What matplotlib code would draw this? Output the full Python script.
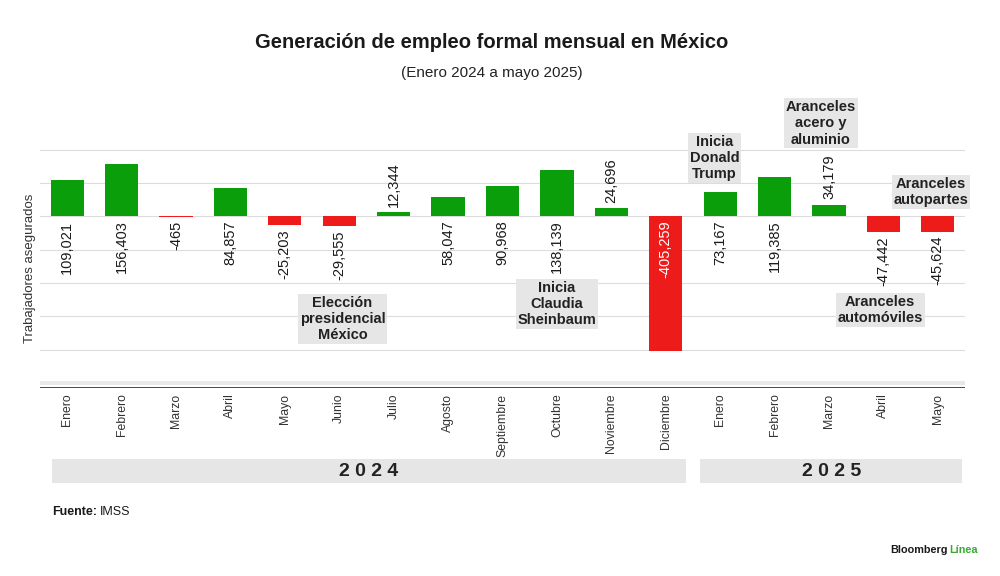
import matplotlib
matplotlib.use("Agg")
import matplotlib.pyplot as plt
from matplotlib.patches import Rectangle
import matplotlib.transforms as mtransforms

# ── Data ──────────────────────────────────────────────────────────────────────
months = ["Enero", "Febrero", "Marzo", "Abril", "Mayo", "Junio", "Julio",
          "Agosto", "Septiembre", "Octubre", "Noviembre", "Diciembre",
          "Enero", "Febrero", "Marzo", "Abril", "Mayo"]
values = [109021, 156403, -465, 84857, -25203, -29555, 12344,
          58047, 90968, 138139, 24696, -405259,
          73167, 119385, 34179, -47442, -45624]
years = ["2024", "2025"]
year_counts = [12, 5]
events = ["Elección\npresidencial\nMéxico", "Inicia\nClaudia\nSheinbaum",
          "Inicia\nDonald\nTrump", "Aranceles\nacero y\naluminio",
          "Aranceles\nautopartes", "Aranceles\nautomóviles"]

GREEN = "#0a9e0a"
RED = "#ee1b1b"
BOX = "#e6e6e6"
TXT = "#1a1a1a"

plt.rcParams.update({
    "font.family": ["Liberation Sans", "DejaVu Sans"],
    "figure.facecolor": "white",
    "axes.facecolor": "white",
})

fig = plt.figure(figsize=(10, 5.76), dpi=100)
ax = fig.add_axes([0.04, 0.3264, 0.925, 0.512])

x = list(range(len(values)))
colors = [GREEN if v >= 0 else RED for v in values]
ax.bar(x, values, width=0.61, color=colors, edgecolor="none", zorder=3)

ax.set_xlim(-0.5, len(values) - 0.5)
ax.set_ylim(-515000, 370000)

# ── Grid ──────────────────────────────────────────────────────────────────────
for g in range(200000, -500000, -100000):
    ax.axhline(g, color="#dcdcdc", lw=0.8, zorder=1)
ax.axhline(-500000, color="#e8e8e8", lw=2.8, zorder=1)
ax.axhline(-515000, color="#111111", lw=1.8, zorder=4)

for s in ax.spines.values():
    s.set_visible(False)
ax.set_yticks([])
ax.set_xticks(x)
ax.set_xticklabels(months, rotation=90, fontsize=8.8, color="#333333")
ax.tick_params(axis="x", length=0, pad=4)

# ── Value labels ──────────────────────────────────────────────────────────────
for xi, v in zip(x, values):
    lab = f"{v:,}"
    if 0 < v < 40000:
        ax.annotate(lab, (xi, v), xytext=(0, 4), textcoords="offset points",
                    rotation=90, ha="center", va="bottom", fontsize=10.5, color=TXT)
    elif v < -300000:
        ax.annotate(lab, (xi, 0), xytext=(0, -3), textcoords="offset points",
                    rotation=90, ha="center", va="top", fontsize=10.5, color="white",
                    zorder=5)
    elif v >= 0:
        ax.annotate(lab, (xi, 0), xytext=(0, -3), textcoords="offset points",
                    rotation=90, ha="center", va="top", fontsize=10.5, color=TXT)
    else:
        ax.annotate(lab, (xi, v), xytext=(0, -3), textcoords="offset points",
                    rotation=90, ha="center", va="top", fontsize=10.5, color=TXT)

# ── Event boxes ───────────────────────────────────────────────────────────────
event_pos = [(5.06, -308000), (9.0, -263000), (11.9, 175000),
             (13.85, 279000), (15.87, 73000), (14.94, -281000)]
for txt, (ex, ey) in zip(events, event_pos):
    ax.text(ex, ey, txt, ha="center", va="center", fontsize=10.5,
            fontweight="bold", color="#222222", linespacing=1.2, zorder=6,
            clip_on=False,
            bbox=dict(boxstyle="square,pad=0.12", facecolor=BOX, edgecolor="none"))

# ── Year bands ────────────────────────────────────────────────────────────────
trans = mtransforms.blended_transform_factory(ax.transData, ax.transAxes)
start = 0
band_pad = [(0.22, 0.13), (0.13, 0.05)]
for yr, n, (pl, pr) in zip(years, year_counts, band_pad):
    x0 = start - 0.5 + pl
    x1 = start + n - 0.5 - pr
    ax.add_patch(Rectangle((x0, -0.322), x1 - x0, 0.081, transform=trans,
                           facecolor=BOX, edgecolor="none", clip_on=False))
    ax.text((x0 + x1) / 2, -0.2815, " ".join(yr), transform=trans,
            ha="center", va="center", fontsize=14, fontweight="bold",
            color="#222222")
    start += n

# ── Titles & notes ────────────────────────────────────────────────────────────
fig.text(0.492, 1 - 42 / 576, "Generación de empleo formal mensual en México",
         ha="center", va="center", fontsize=14.5, fontweight="bold", color=TXT)
fig.text(0.492, 1 - 73 / 576, "(Enero 2024 a mayo 2025)",
         ha="center", va="center", fontsize=11, color="#222222")
fig.text(0.030, 1 - 268 / 576, "Trabajadores asegurados", rotation=90,
         ha="center", va="center", fontsize=9.5, color="#333333")

t1 = fig.text(0.052, 1 - 512 / 576, "Fuente:", ha="left", va="center",
              fontsize=9, fontweight="bold", color=TXT)
ax.annotate("IMSS", xy=(1, 0.5), xycoords=t1, xytext=(2, 0),
            textcoords="offset points", ha="left", va="center",
            fontsize=9, color=TXT, annotation_clip=False)

t2 = fig.text(0.978, 1 - 550 / 576, "Línea", ha="right", va="center",
              fontsize=7.8, fontweight="bold", color="#3aa935")
ax.annotate("Bloomberg", xy=(0, 0.5), xycoords=t2, xytext=(-1.5, 0),
            textcoords="offset points", ha="right", va="center",
            fontsize=7.8, fontweight="bold", color=TXT, annotation_clip=False)

fig.savefig("out.png", dpi=100)
plt.close(fig)
